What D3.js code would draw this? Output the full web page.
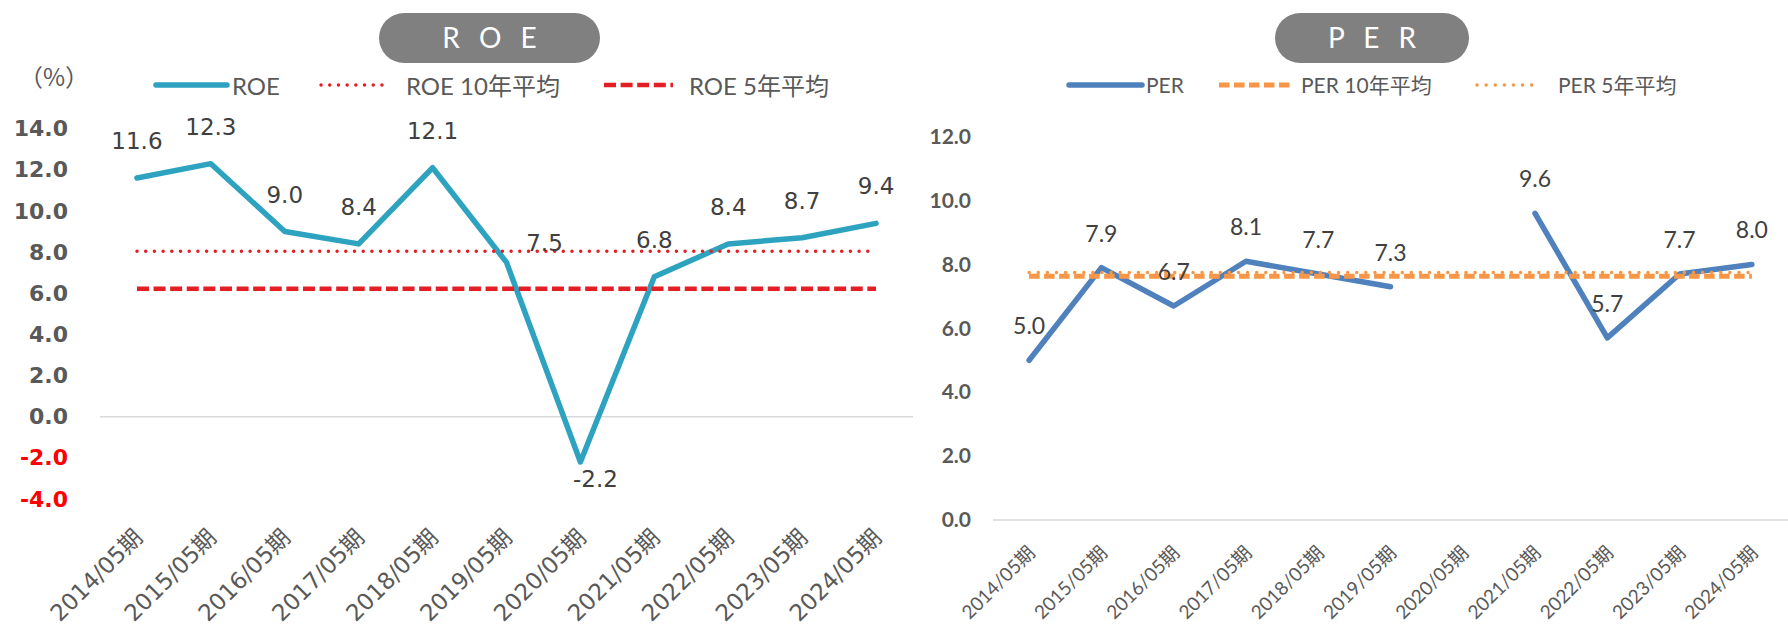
<!DOCTYPE html>
<html>
<head>
<meta charset="utf-8">
<script src="https://cdn.jsdelivr.net/npm/d3@7"></script>
<style>
  html, body { margin: 0; padding: 0; background: #ffffff; }
  svg { display: block; }
</style>
</head>
<body>
<svg id="chart" width="1788" height="626"></svg>
<script>
// ---- data ----
const categories = ['2014/05期', '2015/05期', '2016/05期', '2017/05期', '2018/05期', '2019/05期',
                    '2020/05期', '2021/05期', '2022/05期', '2023/05期', '2024/05期'];

const roeValues = [11.6, 12.3, 9.0, 8.4, 12.1, 7.5, -2.2, 6.8, 8.4, 8.7, 9.4];
const roeAvg10 = [8.04];
const roeAvg5 = [6.22];
const roeTicks = [14, 12, 10, 8, 6, 4, 2, 0, -2, -4];
const roeLabelPlace = ['above', 'above', 'above', 'above', 'above', 'aboveRight',
                       'belowRight', 'above', 'above', 'above', 'above'];
const roeLegend = ['ROE', 'ROE 10年平均', 'ROE 5年平均'];

const perValues = [5.0, 7.9, 6.7, 8.1, 7.7, 7.3, null, 9.6, 5.7, 7.7, 8.0];
const perAvg10 = [7.63];
const perAvg5 = [7.75];
const perTicks = [12, 10, 8, 6, 4, 2, 0];
const perLegend = ['PER', 'PER 10年平均', 'PER 5年平均'];

// ---- styling ----
const C = {
  roe: '#2EA3C0', per: '#4F81BD', red: '#E31E24', orange: '#F79646',
  axisText: '#595959', labelText: '#404040', zero: '#D9D9D9', pill: '#808080'
};
const FONT_V = '"DejaVu Sans", "Noto Sans CJK JP", sans-serif';
const FONT_H = 'Lato, "Noto Sans CJK JP", sans-serif';
// one decimal, plain hyphen for negatives
const fmt1 = d3.format('.1f');
const fmt = v => fmt1(v).replace('\u2212', '-');

const svg = d3.select('#chart');

function pill(g, x0, x1, text) {
  g.append('rect').attr('x', x0).attr('y', 13).attr('width', x1 - x0).attr('height', 50)
    .attr('rx', 25).attr('ry', 25).attr('fill', C.pill);
  g.append('text').attr('x', (x0 + x1) / 2 + 3).attr('y', 48)
    .attr('text-anchor', 'middle').attr('fill', '#ffffff')
    .attr('font-family', FONT_H).attr('font-size', 28).attr('letter-spacing', 6)
    .text(text);
}

function legendItem(g, x0, x1, textX, baseY, fontSize, label, stroke) {
  const l = g.append('line').attr('x1', x0).attr('x2', x1).attr('y1', 85).attr('y2', 85);
  Object.entries(stroke).forEach(([k, v]) => l.attr(k, v));
  g.append('text').attr('x', textX).attr('y', baseY)
    .attr('fill', C.axisText).attr('font-family', FONT_H).attr('font-size', fontSize)
    .text(label);
}

// ================= ROE panel =================
(function () {
  const g = svg.append('g');
  const x = d3.scaleBand().domain(categories).range([100, 913]);
  const cx = d => x(d) + x.bandwidth() / 2;
  const y = d3.scaleLinear().domain([-4, 14]).range([499, 128.7]);

  pill(g, 379, 600, 'R O E');

  g.append('text').attr('x', 54).attr('y', 86).attr('text-anchor', 'middle')
    .attr('fill', C.axisText).attr('font-family', '"Noto Sans CJK JP", sans-serif')
    .attr('font-size', 24).text('（%）');

  const solid = { stroke: C.roe, 'stroke-width': 5.5, 'stroke-linecap': 'round' };
  const dotted = { stroke: C.red, 'stroke-width': 3.4, 'stroke-dasharray': '0.1 8.6', 'stroke-linecap': 'round' };
  const dashed = { stroke: C.red, 'stroke-width': 4.5, 'stroke-dasharray': '12 4.6' };
  legendItem(g, 156, 227, 232, 95, 24, roeLegend[0], solid);
  legendItem(g, 321, 383, 406, 95, 24, roeLegend[1], dotted);
  legendItem(g, 604, 673, 689, 95, 24, roeLegend[2], dashed);

  // y axis
  const ya = g.append('g').attr('transform', 'translate(68,0)')
    .call(d3.axisLeft(y).tickValues(roeTicks).tickFormat(fmt).tickSize(0).tickPadding(0));
  ya.select('.domain').remove();
  ya.selectAll('text')
    .attr('font-family', FONT_V).attr('font-size', 22).attr('font-weight', 'bold')
    .attr('fill', d => d < 0 ? '#FF0000' : C.axisText);

  // zero line
  g.append('line').attr('x1', 100).attr('x2', 913).attr('y1', y(0)).attr('y2', y(0))
    .attr('stroke', C.zero).attr('stroke-width', 1.5);

  // x axis labels
  const xa = g.append('g').attr('transform', 'translate(0,' + y(-4) + ')')
    .call(d3.axisBottom(x).tickSize(0).tickPadding(0));
  xa.select('.domain').remove();
  xa.selectAll('.tick text')
    .attr('font-family', FONT_V).attr('font-size', 23).attr('fill', C.axisText)
    .attr('text-anchor', 'end').attr('dy', 0).attr('y', 0)
    .attr('transform', 'translate(7,40) rotate(-45)');

  // series
  const line = d3.line().x((d, i) => cx(categories[i])).y(d => y(d));
  g.append('path').datum(roeValues).attr('d', line).attr('fill', 'none')
    .attr('stroke', C.roe).attr('stroke-width', 5.5).attr('stroke-linejoin', 'round')
    .attr('stroke-linecap', 'round');

  const xs = cx(categories[0]), xe = cx(categories[categories.length - 1]);
  roeAvg10.forEach(v => {
    const l = g.append('line').attr('x1', xs).attr('x2', xe).attr('y1', y(v)).attr('y2', y(v));
    Object.entries(dotted).forEach(([k, s]) => l.attr(k, s));
  });
  roeAvg5.forEach(v => {
    const l = g.append('line').attr('x1', xs).attr('x2', xe).attr('y1', y(v)).attr('y2', y(v));
    Object.entries(dashed).forEach(([k, s]) => l.attr(k, s));
  });

  // data labels
  const off = { above: [0, -29], aboveRight: [38, -11], belowRight: [15, 25] };
  g.append('g').selectAll('text').data(roeValues).join('text')
    .attr('x', (d, i) => cx(categories[i]) + off[roeLabelPlace[i]][0])
    .attr('y', (d, i) => y(d) + off[roeLabelPlace[i]][1])
    .attr('text-anchor', 'middle').attr('fill', C.labelText)
    .attr('font-family', FONT_V).attr('font-size', 23)
    .text(d => fmt(d));
})();

// ================= PER panel =================
(function () {
  const g = svg.append('g');
  const x = d3.scaleBand().domain(categories).range([993, 1788]);
  const cx = d => x(d) + x.bandwidth() / 2;
  const y = d3.scaleLinear().domain([0, 12]).range([520, 136.7]);

  pill(g, 1275, 1469, 'P E R');

  const solid = { stroke: C.per, 'stroke-width': 5.5, 'stroke-linecap': 'round' };
  const dashed = { stroke: C.orange, 'stroke-width': 5, 'stroke-dasharray': '10.5 4.5' };
  const dotted = { stroke: C.orange, 'stroke-width': 3.4, 'stroke-dasharray': '0.1 9', 'stroke-linecap': 'round' };
  legendItem(g, 1069, 1142, 1146, 93, 21, perLegend[0], solid);
  legendItem(g, 1219, 1290, 1301, 93, 21, perLegend[1], dashed);
  legendItem(g, 1477, 1540, 1558, 93, 21, perLegend[2], dotted);

  const ya = g.append('g').attr('transform', 'translate(971,0)')
    .call(d3.axisLeft(y).tickValues(perTicks).tickFormat(fmt).tickSize(0).tickPadding(0));
  ya.select('.domain').remove();
  ya.selectAll('text')
    .attr('font-family', FONT_H).attr('font-size', 21).attr('font-weight', 'bold')
    .attr('fill', C.axisText);

  g.append('line').attr('x1', 993).attr('x2', 1788).attr('y1', y(0)).attr('y2', y(0))
    .attr('stroke', C.zero).attr('stroke-width', 1.5);

  const xa = g.append('g').attr('transform', 'translate(0,' + y(0) + ')')
    .call(d3.axisBottom(x).tickSize(0).tickPadding(0));
  xa.select('.domain').remove();
  xa.selectAll('.tick text')
    .attr('font-family', FONT_H).attr('font-size', 19).attr('fill', C.axisText)
    .attr('text-anchor', 'end').attr('dy', 0).attr('y', 0)
    .attr('transform', 'translate(7,34) rotate(-45)');

  const line = d3.line().defined(d => d != null)
    .x((d, i) => cx(categories[i])).y(d => y(d));
  g.append('path').datum(perValues).attr('d', line).attr('fill', 'none')
    .attr('stroke', C.per).attr('stroke-width', 5.5).attr('stroke-linejoin', 'round')
    .attr('stroke-linecap', 'round');

  const xs = cx(categories[0]), xe = cx(categories[categories.length - 1]);
  perAvg10.forEach(v => {
    const l = g.append('line').attr('x1', xs).attr('x2', xe).attr('y1', y(v)).attr('y2', y(v));
    Object.entries(dashed).forEach(([k, s]) => l.attr(k, s));
  });
  perAvg5.forEach(v => {
    const l = g.append('line').attr('x1', xs).attr('x2', xe).attr('y1', y(v)).attr('y2', y(v));
    Object.entries(dotted).forEach(([k, s]) => l.attr(k, s));
  });

  const pts = perValues.map((v, i) => ({ v, c: categories[i] })).filter(p => p.v != null);
  g.append('g').selectAll('text').data(pts).join('text')
    .attr('x', p => cx(p.c)).attr('y', p => y(p.v) - 26)
    .attr('text-anchor', 'middle').attr('fill', C.labelText)
    .attr('font-family', FONT_H).attr('font-size', 23)
    .text(p => fmt(p.v));
})();
</script>
</body>
</html>
